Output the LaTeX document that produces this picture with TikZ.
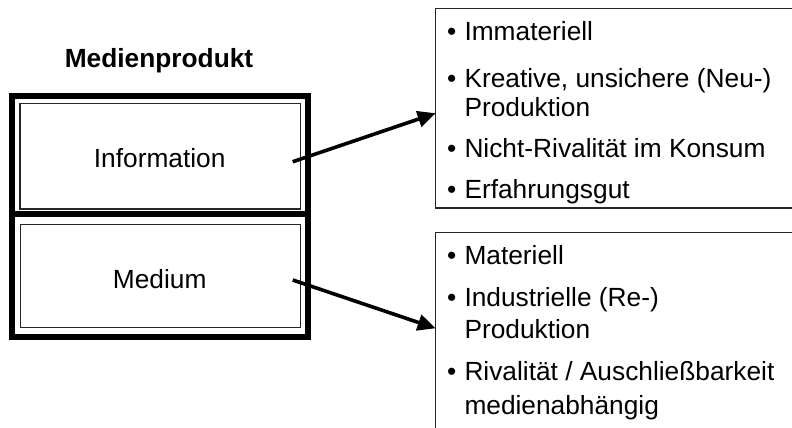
\documentclass[tikz,border=0pt]{standalone}
\usepackage{fontspec}
\setmainfont{Liberation Sans}
\usetikzlibrary{arrows.meta,calc}
\begin{document}
\begin{tikzpicture}[x=1pt,y=-1pt,
  every node/.style={inner sep=0pt, outer sep=0pt},
  txt/.style={font=\fontsize{26.3}{30}\selectfont, anchor=base},
  item/.style={font=\fontsize{26.3}{30}\selectfont, anchor=base west},
  innerbox/.style={draw=black!85, line width=1.2pt},
  propbox/.style={draw=black!85, line width=1.3pt, anchor=north west},
  frame/.style={line width=6.5pt},
  link/.style={line width=3.6pt, -{Triangle[length=18pt,width=16pt]}}
]
\clip (0,0) rectangle (792,428);
\fill[white] (0,0) rectangle (792,428);

% title
\node[txt, font=\fontsize{26.3}{30}\selectfont\bfseries] (title) at (159,67.7) {Medienprodukt};

% inner boxes of the product
\node[innerbox, minimum width=280.7pt, minimum height=105.5pt] (info) at (160.35,156.25) {};
\node[innerbox, minimum width=280.4pt, minimum height=103pt] (media) at (160.5,276.3) {};
\node[txt] (infolabel) at (159.7,167.3) {Information};
\node[txt] (medialabel) at (159.7,288.3) {Medium};

% heavy outer frame with divider
\draw[frame] (12.2,96.2) rectangle (308,337);
\draw[frame] (12.2,214) -- (308,214);

% property boxes (run off the right and bottom edges)
\node[propbox, minimum width=400pt, minimum height=199.5pt] (infoprops) at (435.7,8.5) {};
\node[propbox, minimum width=400pt, minimum height=250pt] (mediaprops) at (435.7,232.7) {};

% properties of information
\node[txt] (b1) at (451.7,41) {•};
\node[item] (i1) at (464.5,41) {Immateriell};
\node[txt] (b2) at (451.7,87) {•};
\node[item] (i2) at (464.5,87) {Kreative, unsichere (Neu-)};
\node[item] (i2b) at (464.5,116.5) {Produktion};
\node[txt] (b3) at (451.7,157) {•};
\node[item] (i3) at (464.5,157) {Nicht-Rivalität im Konsum};
\node[txt] (b4) at (451.7,198.5) {•};
\node[item] (i4) at (464.5,198.5) {Erfahrungsgut};

% properties of the medium
\node[txt] (c1) at (451.7,264.5) {•};
\node[item] (m1) at (464.5,264.5) {Materiell};
\node[txt] (c2) at (451.7,306) {•};
\node[item] (m2) at (464.5,306) {Industrielle (Re-)};
\node[item] (m2b) at (464.5,338) {Produktion};
\node[txt] (c3) at (451.7,380.5) {•};
\node[item] (m3) at (464.5,380.5) {Rivalität / Auschließbarkeit};
\node[item] (m3b) at (464.5,414.5) {medienabhängig};

% arrows
\draw[link] ($(info.east)+(-8,5.5)$) -- ($(infoprops.west)+(0,5)$);
\draw[link] ($(media.east)+(-8,3.7)$) -- ($(mediaprops.north west)+(0,95.6)$);
\end{tikzpicture}
\end{document}
